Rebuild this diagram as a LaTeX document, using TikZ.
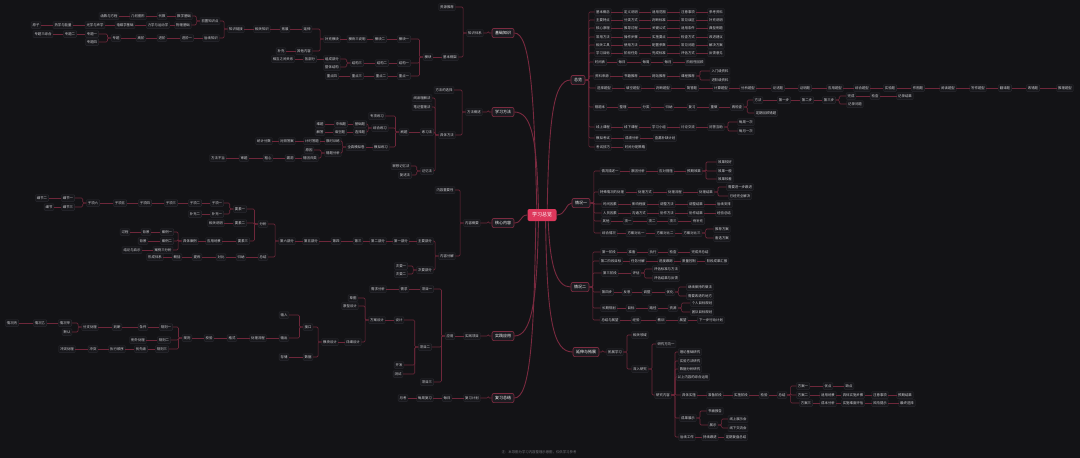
\documentclass[tikz,border=0pt]{standalone}
\usepackage{fontspec}
\newfontfamily\cjk{Noto Sans CJK SC}

\definecolor{canvas}{HTML}{131316}
\definecolor{rootfill}{HTML}{DE385C}
\definecolor{topicfill}{HTML}{1C1C21}
\definecolor{topicedge}{HTML}{7C2B40}
\definecolor{linkred}{HTML}{6E273A}
\definecolor{trunkred}{HTML}{7A2A3F}
\definecolor{leaftext}{HTML}{D4D4D8}
\definecolor{leafedge}{HTML}{2B2B31}
\definecolor{leaffill}{HTML}{18181C}
\definecolor{notegrey}{HTML}{77777D}

% a row of topics growing to the right of a parent
\newcommand{\rrow}[4]{%
  \foreach \x/\lbl [count=\i, remember=\i as \j (initially 0)] in {#4}{%
    \node[leaf] (#1-\i) at (\x,#2) {\lbl};
    \ifnum\j=0 \draw[link] (#3.east) -- ++(3.5,0) |- (#1-\i.west);
    \else \draw[link] (#1-\j.east) -- (#1-\i.west);\fi
  }}
% a row of topics growing to the left of a parent
\newcommand{\lrow}[4]{%
  \foreach \x/\lbl [count=\i, remember=\i as \j (initially 0)] in {#4}{%
    \node[leaf] (#1-\i) at (\x,#2) {\lbl};
    \ifnum\j=0 \draw[link] (#3.west) -- ++(-3.5,0) |- (#1-\i.east);
    \else \draw[link] (#1-\j.west) -- (#1-\i.east);\fi
  }}

\begin{document}
\begin{tikzpicture}[
  x=1pt, y=-1pt,
  leaf/.style={
    font=\cjk\fontsize{3.4}{4}\selectfont,
    text=leaftext,
    draw=leafedge,
    fill=leaffill,
    line width=0.3pt,
    rounded corners=0.8pt,
    inner xsep=1.5pt,
    inner ysep=1.6pt,
    text height=2.9pt,
    text depth=0.6pt
  },
  topic/.style={
    font=\cjk\fontsize{4}{5}\selectfont,
    text=white,
    fill=topicfill,
    draw=topicedge,
    line width=0.7pt,
    rounded corners=2pt,
    inner xsep=3pt,
    inner ysep=2.6pt,
    text height=3.4pt,
    text depth=0.6pt
  },
  rootbox/.style={
    font=\cjk\fontsize{5}{6}\selectfont,
    text=white,
    fill=rootfill,
    rounded corners=2pt,
    inner xsep=4.5pt,
    inner ysep=3.5pt,
    text height=4.2pt,
    text depth=0.8pt
  },
  link/.style={draw=linkred, line width=0.6pt, rounded corners=1.2pt},
  trunk/.style={draw=trunkred, line width=0.9pt},
  note/.style={font=\cjk\fontsize{3.4}{4}\selectfont, text=notegrey}
]

\useasboundingbox (0,0) rectangle (1080,458);
\fill[canvas] (0,0) rectangle (1080,458);

% Centre
\node[rootbox] (root) at (542,215) {学习总览};

% Right branch 1
\node[topic] (r1) at (578,80) {总览};
\rrow{r1a}{12}{r1}{603/基本概念,631/定义说明,659/适用范围,688/注意事项,716/参考资料}
\rrow{r1b}{20}{r1}{603/主要特点,631/分类方式,659/判断标准,688/常见误区,716/补充说明}
\rrow{r1c}{28}{r1}{603/核心原理,631/推导过程,659/关键公式,688/适用条件,716/典型例题}
\rrow{r1d}{37}{r1}{603/常用方法,631/操作步骤,659/实施要点,688/检查方式,716/改进建议}
\rrow{r1e}{45}{r1}{603/相关工具,631/使用方法,659/配置参数,688/常见问题,716/解决方案}
\rrow{r1f}{53}{r1}{603/学习目标,631/阶段任务,659/完成标准,688/评估方式,716/反馈意见}
\rrow{r1g}{62}{r1}{600/时间表,622/每日,646/每周,668/每月,695/阶段性回顾}
\rrow{r1h}{76}{r1}{602/资料来源,631/书籍推荐,659/网站推荐,688/课程推荐}
\rrow{r1h1}{71}{r1h-4}{720/入门级资料}
\rrow{r1h2}{80}{r1h-4}{720/进阶级资料}
\rrow{r1i}{88}{r1}{604/选择题型,633/填空题型,663/判断题型,692/简答题,721/计算题型,748/分析题型,778/论述题,805/证明题,835/应用题型,862/综合题型,890/实验题,918/作图题,948/阅读题型,978/写作题型,1005/翻译题,1033/改错题,1065/推理题型}
\rrow{r1j}{107}{r1}{600/错题本,623/整理,646/分类,669/归纳,692/复习,714/重做,737/再检查}
\rrow{r1j1}{100}{r1j-7}{758/方法,784/第一步,807/第二步,829/第三步}
\rrow{r1j2}{96}{r1j1-4}{851/完成,875/检查,905/记录结果}
\rrow{r1j3}{104}{r1j1-4}{855/记录问题}
\rrow{r1j4}{113}{r1j-7}{766/定期回顾错题}
\rrow{r1k}{127}{r1}{603/线上课程,631/线下课程,659/学习小组,688/讨论交流,716/问答互助}
\rrow{r1k1}{122}{r1k-5}{746/每周一次}
\rrow{r1k2}{131}{r1k-5}{746/每月一次}
\rrow{r1l}{138}{r1}{603/模拟考试,632/成绩分析,665/查漏补缺计划}
\rrow{r1m}{147}{r1}{603/考试技巧,635/时间分配策略}

% Right branch 2
\node[topic] (r2) at (581,203) {情况一};
\rrow{r2a}{171}{r2}{610/情况描述一,638/原因分析,666/应对措施,694/预期效果}
\rrow{r2a1}{162}{r2a-4}{725/效果较好}
\rrow{r2a2}{171}{r2a-4}{725/效果一般}
\rrow{r2a3}{179}{r2a-4}{725/效果较差}
\rrow{r2b}{192}{r2}{612/特殊情况的处理,645/处理方式,675/处理流程,706/处理结果}
\rrow{r2b1}{187}{r2b-4}{740/需要进一步跟进}
\rrow{r2b2}{196}{r2b-4}{740/已经完全解决}
\rrow{r2c}{204}{r2}{610/时间因素,639/影响程度,667/调整方法,696/调整结果,724/后续安排}
\rrow{r2d}{213}{r2}{610/人员因素,639/沟通方式,667/协作方法,696/协作结果,724/经验总结}
\rrow{r2e}{221}{r2}{606/其他,628/项一,652/项二,673/项三,698/待补充}
\rrow{r2f}{233}{r2}{609/综合情况,636/方案对比一,665/方案对比二,692/方案对比三}
\rrow{r2f1}{229}{r2f-4}{722/推荐方案}
\rrow{r2f2}{238}{r2f-4}{722/备选方案}

% Right branch 3
\node[topic] (r3) at (580,287) {情况二};
\rrow{r3a}{252}{r3}{609/第一阶段,632/准备,653/执行,673/检查,700/完成并总结}
\rrow{r3b}{261}{r3}{611/第二阶段目标,638/任务分解,666/进度跟踪,689/质量控制,717/阶段成果汇报}
\rrow{r3c}{273}{r3}{610/第三阶段,636/评估}
\rrow{r3c1}{269}{r3c-2}{666/评估标准与方法}
\rrow{r3c2}{278}{r3c-2}{666/评估结果与反馈}
\rrow{r3d}{292}{r3}{607/第四步,627/反思,647/调整,670/优化}
\rrow{r3d1}{287}{r3d-4}{700/继续保持的做法}
\rrow{r3d2}{296}{r3d-4}{700/需要改进的地方}
\rrow{r3e}{308}{r3}{609/长期规划,631/目标,653/路径,673/资源}
\rrow{r3e1}{303}{r3e-4}{702/个人目标规划}
\rrow{r3e2}{312}{r3e-4}{702/团队目标规划}
\rrow{r3f}{320}{r3}{610/总结与展望,636/经验,661/教训,683/展望,711/下一步行动计划}

% Right branch 4
\node[topic] (r4) at (586,352) {延伸与拓展};
\rrow{r4a}{352}{r4}{615/拓展学习}
\rrow{r4b}{335}{r4a-1}{640/相关领域}
\rrow{r4c}{369}{r4a-1}{640/深入研究}
\rrow{r4d}{344}{r4c-1}{666/研究方向一}
\rrow{r4e}{395}{r4c-1}{663/研究内容}
\rrow{r4f}{352}{r4e-1}{690/理论基础研究}
\rrow{r4g}{361}{r4e-1}{690/实验方法研究}
\rrow{r4h}{369}{r4e-1}{690/数据分析研究}
\rrow{r4i}{377}{r4e-1}{693/以上内容的综合运用}
\rrow{r4j}{395}{r4e-1}{689/具体实施,715/准备阶段,741/实施阶段,764/检验,782/总结}
\rrow{r4j1}{386}{r4j-5}{803/方案一,828/优点,849/缺点}
\rrow{r4j2}{395}{r4j-5}{803/方案二,828/适用场景,853/具体实施步骤,880/注意事项,905/预期结果}
\rrow{r4j3}{403}{r4j-5}{806/方案三,828/成本分析,853/实施难度评估,880/风险提示,907/最终选择}
\rrow{r4k}{418}{r4e-1}{688/成果展示}
\rrow{r4k1}{411}{r4k-1}{715/书面报告}
\rrow{r4k2}{425}{r4k-1}{713/展示}
\rrow{r4k3}{419}{r4k2-1}{738/线上展示会}
\rrow{r4k4}{428}{r4k2-1}{738/线下交流会}
\rrow{r4l}{437}{r4e-1}{687/后续工作,710/持续跟进,736/定期复盘总结}

% Left branch 1
\node[topic] (l1) at (503,33) {基础知识};
\lrow{l1a}{33}{l1}{475/知识体系}
\lrow{l1b}{7}{l1a-1}{447/资源推荐}
\lrow{l1c}{57}{l1a-1}{450/基本框架,428/模块}
\lrow{l1d}{39}{l1c-2}{404/模块一,380/模块二,357/模块三说明,332/补充模块}
\lrow{l1e}{63}{l1c-2}{404/结构一,382/结构二,357/结构三}
\lrow{l1f}{76}{l1c-2}{404/重点一,381/重点二,357/重点三,332/重点四}
\lrow{l1g}{29}{l1d-4}{307/延伸,285/拓展,262/相关知识,236/知识链接}
\lrow{l1h}{51}{l1d-4}{304/其他内容,281/补充}
\lrow{l1i}{21}{l1g-4}{210/前置知识点}
\lrow{l1j}{38}{l1g-4}{211/后续知识,187/进阶一,162/进阶,141/高阶,116/专题}
\lrow{l1k}{16}{l1i-1}{184/数学基础,162/代数,138/几何图形,109/函数与方程}
\lrow{l1l}{25}{l1i-1}{183/物理基础,158/力学与运动学,125/电磁学基础,95/光学与声学,63/热学与能量,36/原子}
\lrow{l1m}{34}{l1j-5}{92/专题一,70/专题二,43/专题三综合}
\lrow{l1n}{42}{l1j-5}{92/专题四}
\lrow{l1o}{59}{l1e-3}{332/组成部分,310/各部分,283/相互之间关系}
\lrow{l1p}{67}{l1e-3}{332/整体结构}

% Left branch 2
\node[topic] (l2) at (503,112) {学习方法};
\lrow{l2a}{112}{l2}{474/方法概述}
\lrow{l2b}{90}{l2a-1}{444/方法的选择}
\lrow{l2c}{135}{l2a-1}{447/具体方法}
\lrow{l2d}{98}{l2c-1}{422/阅读理解法}
\lrow{l2e}{107}{l2c-1}{422/笔记整理法}
\lrow{l2f}{132}{l2c-1}{427/练习法,404/刷题}
\lrow{l2g}{171}{l2c-1}{427/记忆法}
\lrow{l2h}{116}{l2f-2}{377/专项练习}
\lrow{l2i}{128}{l2f-2}{380/综合练习}
\lrow{l2j}{147}{l2f-2}{381/模拟练习,356/全真模拟卷}
\lrow{l2k}{124}{l2i-1}{360/基础题,341/中档题,320/难题}
\lrow{l2l}{132}{l2i-1}{360/选择题,340/填空题,320/解答}
\lrow{l2m}{141}{l2j-2}{333/限时训练,312/计时答题,287/对照答案,264/统计分数}
\lrow{l2n}{153}{l2j-2}{333/错题分析}
\lrow{l2o}{150}{l2n-1}{309/原因}
\lrow{l2p}{158}{l2n-1}{310/错因归类,290/漏洞,268/粗心,244/审题,218/方法不当}
\lrow{l2q}{166}{l2g-1}{401/联想记忆法}
\lrow{l2r}{175}{l2g-1}{405/复述法}

% Left branch 3
\node[topic] (l3) at (503,223) {核心内容};
\lrow{l3a}{223}{l3}{472/内容概要}
\lrow{l3b}{190}{l3a-1}{445/内容重要性}
\lrow{l3c}{256}{l3a-1}{447/内容分解}
\lrow{l3d}{241}{l3c-1}{425/主要部分,401/第一部分,378/第二部分,358/第三,336/第四,311/第五部分,287/第六部分}
\lrow{l3e}{270}{l3c-1}{425/次要部分}
\lrow{l3f}{266}{l3e-1}{401/次要一}
\lrow{l3g}{274}{l3e-1}{401/次要二}
\lrow{l3h}{224}{l3d-7}{263/分析}
\lrow{l3i}{257}{l3d-7}{263/总结,241/归纳,221/对比,197/提炼,177/概括,155/形成体系}
\lrow{l3j}{209}{l3h-1}{240/要素一}
\lrow{l3k}{223}{l3h-1}{240/要素二,216/相关说明}
\lrow{l3l}{241}{l3h-1}{243/要素三,214/应用场景,190/具体案例}
\lrow{l3m}{203}{l3j-1}{217/子项一,195/子项二,171/子项三,145/子项四,120/子项五,93/子项六}
\lrow{l3n}{214}{l3j-1}{217/补充一,195/补充二}
\lrow{l3o}{198}{l3m-6}{68/细节一,42/细节二}
\lrow{l3p}{207}{l3m-6}{68/细节三,49/细节}
\lrow{l3q}{232}{l3l-3}{167/案例一,146/背景,125/过程}
\lrow{l3r}{241}{l3l-3}{167/案例二,143/背景}
\lrow{l3s}{250}{l3l-3}{163/案例三分析,132/结论与启示}

% Left branch 4
\node[topic] (l4) at (503,336) {实践应用};
\lrow{l4a}{336}{l4}{472/实践项目,450/应用}
\lrow{l4b}{289}{l4a-2}{427/项目一,404/需求,378/需求分析}
\lrow{l4c}{347}{l4a-2}{425/项目二}
\lrow{l4d}{382}{l4a-2}{427/项目三}
\lrow{l4e}{320}{l4c-1}{399/设计,377/方案设计}
\lrow{l4f}{365}{l4c-1}{399/开发}
\lrow{l4g}{374}{l4c-1}{398/测试}
\lrow{l4h}{298}{l4e-2}{353/草图}
\lrow{l4i}{306}{l4e-2}{350/原型设计}
\lrow{l4j}{342}{l4e-2}{353/详细设计,330/模块设计}
\lrow{l4k}{327}{l4j-2}{308/接口}
\lrow{l4l}{357}{l4j-2}{308/数据,284/存储}
\lrow{l4m}{315}{l4k-1}{284/输入}
\lrow{l4n}{338}{l4k-1}{284/输出,258/处理流程,232/格式,209/校验,187/规则}
\lrow{l4o}{327}{l4n-5}{166/规则一,143/条件,117/判断,90/分支处理}
\lrow{l4p}{340}{l4n-5}{164/规则二,138/例外处理}
\lrow{l4q}{349}{l4n-5}{162/规则三,141/优先级,117/执行顺序,93/冲突,67/冲突处理}
\lrow{l4r}{323}{l4o-4}{65/情况甲,40/情况乙,12/情况丙}
\lrow{l4s}{332}{l4o-4}{67/默认}

% Left branch 5
\node[topic] (l5) at (503,398) {复习总结};
\lrow{l5a}{398}{l5}{472/复习计划,447/每日,425/每周复习,403/月考}

% Trunks from the centre
\draw[trunk] (root.50) .. controls (549,120) and (553,80) .. (r1.west);
\draw[trunk] (root.east) .. controls (566,215) and (566,203) .. (r2.west);
\draw[trunk] (root.-45) .. controls (550,265) and (556,287) .. (r3.west);
\draw[trunk] (root.-60) .. controls (547,320) and (553,352) .. (r4.west);
\draw[trunk] (root.130) .. controls (534,90) and (530,33) .. (l1.east);
\draw[trunk] (root.120) .. controls (537,140) and (532,112) .. (l2.east);
\draw[trunk] (root.west) .. controls (520,215) and (522,223) .. (l3.east);
\draw[trunk] (root.-120) .. controls (537,300) and (532,336) .. (l4.east);
\draw[trunk] (root.-135) .. controls (534,340) and (530,398) .. (l5.east);

\node[note] (caption) at (539,452) {注：本导图为学习内容整理示意图，仅供学习参考};

\end{tikzpicture}
\end{document}
